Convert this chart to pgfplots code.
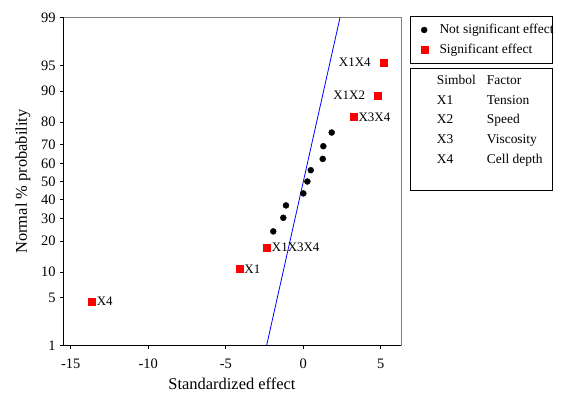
\documentclass[border=0pt]{standalone}
\usepackage{fontspec}
\setmainfont{Liberation Serif}
\usepackage{pgfplots}
\pgfplotsset{compat=1.18}
\begin{document}
\begin{tikzpicture}[x=1bp,y=1bp]
\useasboundingbox (0,0) rectangle (565,395);
\begin{axis}[
  at={(63bp,49.3bp)}, anchor=south west,
  scale only axis, width=338bp, height=328.4bp,
  xmin=-15.5, xmax=6.3, ymin=-2.3263, ymax=2.3263,
  xtick={-15,-10,-5,0,5},
  ytick={-2.3263,-1.6449,-1.2816,-0.8416,-0.5244,-0.2533,0,0.2533,0.5244,0.8416,1.2816,1.6449,2.3263},
  yticklabels={1,5,10,20,30,40,50,60,70,80,90,95,99},
  tick align=outside, major tick length=3bp,
  xtick pos=bottom, ytick pos=left,
  tick style={black, line width=0.8bp},
  axis line style={draw=gray, line width=1bp},
  tick label style={font=\fontsize{14.5}{16}\selectfont},
  xticklabel style={yshift=-7bp},
  yticklabel style={xshift=-1bp},
  /pgf/number format/assume math mode=true,
  xlabel={Standardized effect},
  ylabel={Normal \% probability},
  label style={font=\fontsize{16.5}{18}\selectfont},
  x label style={at={(axis description cs:0.5,-0.1165)}, anchor=center},
  y label style={at={(axis description cs:-0.1187,0.5)}, anchor=center, rotate=0},
  legend style={at={(axis description cs:1.0577,0.9787)}, anchor=north west,
    draw=none, fill=none, inner sep=0pt, row sep=8.5bp, column sep=11.8bp,
    font=\fontsize{13.5}{15}\selectfont, nodes={inner sep=0pt}},
  legend cell align=left,
  legend image code/.code={\draw[#1] plot coordinates {(0bp,0bp)};},
  clip=false,
]
\addplot[blue, line width=0.8bp, no marks, forget plot] coordinates {(-2.37,-2.3263) (2.37,2.3263)};
\addplot[only marks, mark=*, mark size=3bp, black] coordinates {
(-1.94,-0.707) (-1.29,-0.514) (-1.12,-0.339) (0.0,-0.169) (0.26,0) (0.48,0.16) (1.25,0.32) (1.29,0.50) (1.83,0.694)};
\addlegendentry{Not significant effect}
\addplot[only marks, mark=square*, mark size=3.5bp, red, mark options={draw=red, fill=red},
  nodes near coords, point meta=explicit symbolic,
  every node near coord/.append style={anchor=west, inner sep=0pt, xshift=5bp, black, font=\fontsize{13}{14}\selectfont}]
  coordinates {(-13.65,-1.703) [X4] (-4.13,-1.240) [X1] (-2.36,-0.934) [X1X3X4] (3.23,0.915) [X3X4]};
\addlegendentry{Significant effect}
\addplot[only marks, mark=square*, mark size=3.5bp, red, mark options={draw=red, fill=red}, forget plot,
  nodes near coords, point meta=explicit symbolic,
  every node near coord/.append style={anchor=east, inner sep=0pt, xshift=-12.5bp, black, font=\fontsize{13}{14}\selectfont}]
  coordinates {(4.80,1.222) [X1X2] (5.16,1.685) [X1X4]};
\draw[black, line width=1bp] (rel axis cs:0,1) -- (rel axis cs:0,0) -- (rel axis cs:1,0);
\end{axis}
\draw[black, line width=0.8bp] (410.3,331.7) rectangle (552.7,378.3);
\draw[black, line width=0.8bp] (410.3,205) rectangle (552.7,326.7);
\begin{scope}[every node/.style={anchor=base west, inner sep=0pt, font=\fontsize{13.5}{15}\selectfont}]
\node at (436.7,310.5) {Simbol}; \node at (486.7,310.5) {Factor};
\node at (436.7,290.8) {X1}; \node at (486.7,290.8) {Tension};
\node at (436.7,271.1) {X2}; \node at (486.7,271.1) {Speed};
\node at (436.7,251.4) {X3}; \node at (486.7,251.4) {Viscosity};
\node at (436.7,231.7) {X4}; \node at (486.7,231.7) {Cell depth};
\end{scope}
\end{tikzpicture}
\end{document}
